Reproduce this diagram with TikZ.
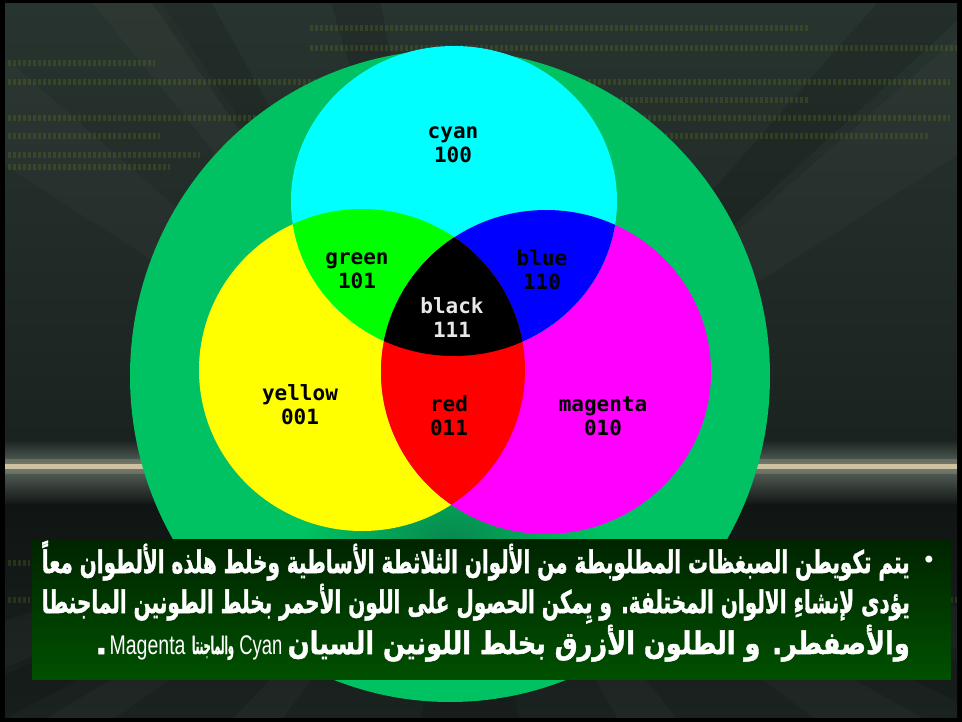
\documentclass[tikz,border=0pt]{standalone}
\usepackage{fontspec}
\usepackage{graphicx}
\TeXXeTstate=1
\newfontfamily\arabicfont[Script=Arabic, BoldFeatures={FakeBold=1.6}]{DejaVu Sans}
\newfontfamily\latinfont{Liberation Sans}
\newfontfamily\codefont{DejaVu Sans Mono}
\newfontfamily\symbolfont{DejaVu Sans}

\definecolor{bgtop}{RGB}{40,52,47}
\definecolor{bgmid}{RGB}{27,35,32}
\definecolor{bgglow}{RGB}{92,104,96}
\definecolor{streak}{RGB}{222,208,170}
\definecolor{bglow}{RGB}{16,21,19}
\definecolor{digitcol}{RGB}{120,150,30}
\definecolor{ring}{RGB}{0,194,98}
\definecolor{ringdark}{RGB}{8,136,78}
\definecolor{vcyan}{RGB}{0,255,255}
\definecolor{vyellow}{RGB}{255,255,0}
\definecolor{vmagenta}{RGB}{255,0,255}
\definecolor{vgreen}{RGB}{0,255,0}
\definecolor{vblue}{RGB}{0,0,255}
\definecolor{vred}{RGB}{255,0,0}
\definecolor{boxtop}{RGB}{0,36,0}
\definecolor{boxbot}{RGB}{0,80,0}
\definecolor{labelwhite}{RGB}{232,232,232}

\newsavebox\arabone
\newsavebox\arabtwo
\newlength\arabwidth

\newcommand\artext{\color{white}\arabicfont\bfseries\fontsize{31}{36}\selectfont}
\newcommand\latinstyle{\color{white}\latinfont\mdseries\fontsize{27}{30}\selectfont}

\tikzset{
  vennlabel/.style={align=center, inner sep=0pt, text=black,
    font=\codefont\bfseries\fontsize{21}{24}\selectfont},
  arabline/.style={anchor=base east, inner sep=0pt, text=white},
  digitrow/.style={digitcol, opacity=0.2, line width=6pt, dash pattern=on 2.5pt off 2.5pt},
  lightray/.style={white, opacity=0.025},
  darkray/.style={black, opacity=0.12},
}

\begin{document}
% first caption line sets the horizontal squeeze
\sbox\arabone{\artext\beginR يتم تكويطن  الصبغظات المطلوبطة من  الألوان الثلاثطة الأساطية وخلط هلذه الألطوان معاً\endR}%
\setlength\arabwidth{\wd\arabone}%
\pgfmathsetmacro\arabscale{868/\arabwidth}%
\sbox\arabtwo{\artext\beginR يؤدى لإنشاءِ الالوان المختلفة. و يِمكن الحصول على اللون الأحمر بخلط الطونين الماجنطا\endR}%
\begin{tikzpicture}[x=1pt,y=-1pt]
\useasboundingbox (0,0) rectangle (962,722);

% frame and textured backdrop
\fill[black] (0,0) rectangle (962,722);
\begin{scope}
  \clip (5,4) rectangle (957,717);
  \shade[top color=bgtop, bottom color=bgmid] (5,4) rectangle (957,440);
  \shade[top color=bgmid, bottom color=bgglow] (5,440) rectangle (957,466);
  \shade[top color=bgglow, bottom color=bglow] (5,466) rectangle (957,505);
  \shade[top color=bglow, bottom color=bgmid] (5,505) rectangle (957,717);
  \coordinate (vp) at (470,466);
  \foreach \a/\b in {-300/-120, 40/110, 230/280, 620/680, 820/930, 1150/1350}
    \fill[lightray] (vp) -- (\a,722) -- (\b,722) -- cycle;
  \foreach \a/\b in {-250/-60, 90/160, 1000/1200}
    \fill[lightray] (vp) -- (\a,0) -- (\b,0) -- cycle;
  \foreach \a/\b in {150/210, 330/380, 880/980}
    \fill[darkray] (vp) -- (\a,0) -- (\b,0) -- cycle;
  \foreach \a/\b in {-100/0, 420/520, 1000/1100}
    \fill[darkray] (vp) -- (\a,722) -- (\b,722) -- cycle;
  \fill[streak, opacity=0.2] (5,459) rectangle (957,474);
  \fill[streak, opacity=0.85] (5,464) rectangle (957,469);
  % rows of faint digits
  \draw[digitrow] (310,28) -- (810,28);
  \draw[digitrow] (310,48) -- (957,48);
  \draw[digitrow] (8,63) -- (155,63);
  \draw[digitrow] (8,82) -- (950,82);
  \draw[digitrow] (600,100) -- (810,100);
  \draw[digitrow] (8,118) -- (950,118);
  \draw[digitrow] (8,136) -- (160,136);
  \draw[digitrow] (640,136) -- (930,136);
  \draw[digitrow] (8,155) -- (200,155);
  \draw[digitrow] (8,167) -- (170,167);
  \draw[digitrow] (8,563) -- (30,563);
  \draw[digitrow] (8,600) -- (30,600);
  \draw[digitrow] (945,600) -- (957,600);
\end{scope}

% large green disc behind the diagram
\def\ringc{(450,376) ellipse [x radius=320, y radius=326]}
\fill[ring] \ringc;
\begin{scope}
  \clip \ringc;
  \shade[inner color=ringdark, outer color=ring] (452,540) ellipse [x radius=150, y radius=95];
\end{scope}

% three overlapping colour discs
\def\cyanc{(454,201) ellipse [x radius=163, y radius=155]}
\def\yellowc{(362,370) ellipse [x radius=163, y radius=161]}
\def\magentac{(546,372) ellipse [x radius=165, y radius=162]}
\fill[vyellow] \yellowc;
\fill[vmagenta] \magentac;
\fill[vcyan] \cyanc;
\begin{scope}
  \clip \cyanc;
  \fill[vgreen] \yellowc;
  \fill[vblue] \magentac;
\end{scope}
\begin{scope}
  \clip \yellowc;
  \fill[vred] \magentac;
  \clip \magentac;
  \fill[black] \cyanc;
\end{scope}

% region labels
\node[vennlabel] (cyanlbl) at (453,145) {cyan\\100};
\node[vennlabel] (greenlbl) at (357,271) {green\\101};
\node[vennlabel] (bluelbl) at (542,270) {blue\\110};
\node[vennlabel, text=labelwhite] (blacklbl) at (452,318) {black\\111};
\node[vennlabel] (yellowlbl) at (300,405) {yellow\\001};
\node[vennlabel] (redlbl) at (449,416) {red\\011};
\node[vennlabel] (magentalbl) at (603,416) {magenta\\010};

% caption panel
\shade[top color=boxtop, bottom color=boxbot] (32,539) rectangle (951,679);
\node[arabline] (lineone) at (910,573) {\scalebox{\arabscale}[1]{\usebox\arabone}};
\node[arabline] (linetwo) at (910,613) {\resizebox{868pt}{\height}{\usebox\arabtwo}};
% third line: Arabic run, then the mixed words chained to its left
\node[arabline] (linethree) at (910,654)
  {\resizebox{622pt}{\height}{\artext\beginR والأصفطر. و الطلون الأزرق بخلط اللونين السيان\endR}};
\node[arabline] (cyanword) at ([xshift=-5pt]linethree.base west)
  {\resizebox{43pt}{\height}{\latinstyle Cyan}};
\node[arabline] (majentaword) at ([xshift=-5pt]cyanword.base west)
  {\resizebox{42pt}{\height}{\artext\fontsize{24}{28}\selectfont\beginR والماجنتا\endR}};
\node[arabline] (magentaword) at ([xshift=-6pt]majentaword.base west)
  {\resizebox{76pt}{\height}{\latinstyle Magenta}};
\node[arabline] (fullstop) at ([xshift=-2pt]magentaword.base west) {\artext .};
\node[inner sep=0pt, text=white, font=\symbolfont\fontsize{24}{24}\selectfont] (bullet) at (929,562) {•};
\end{tikzpicture}
\end{document}
